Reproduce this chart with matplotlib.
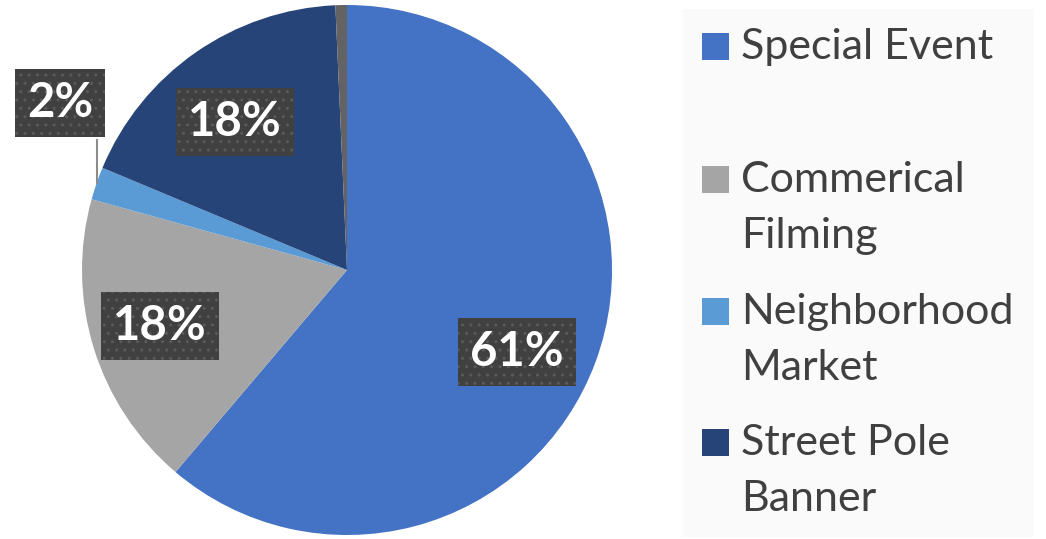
import numpy as np
import matplotlib.pyplot as plt
from matplotlib.patches import Rectangle

plt.rcParams['font.family'] = ['Lato', 'DejaVu Sans']

labels = ["Special Event", "Commerical Filming", "Neighborhood Market", "Street Pole Banner", "Other"]
legend_text = ["Special Event", "Commerical\nFilming", "Neighborhood\nMarket", "Street Pole\nBanner"]
values = [61.2, 18.1, 2.0, 18.0, 0.7]
colors = ["#4472C4", "#A5A5A5", "#5B9BD5", "#264478", "#636363"]

# label box centres (data coords) for the first four slices
label_pos = [(0.642, -0.309), (-0.706, -0.211), (-1.083, 0.630), (-0.423, 0.558)]

W, H = 1046, 539
fig = plt.figure(figsize=(W / 100, H / 100), dpi=100)
cx, cy, r = 347, 270, 265
ax = fig.add_axes([(cx - r) / W, (H - cy - r) / H, 2 * r / W, 2 * r / H])
wedges, _ = ax.pie(values, colors=colors, startangle=90, counterclock=False,
                   radius=1, wedgeprops=dict(linewidth=0))
ax.set_xlim(-1, 1)
ax.set_ylim(-1, 1)
ax.set_aspect('equal')
ax.axis('off')

total = sum(values)
box = dict(boxstyle='square,pad=0.26', facecolor='#404040', edgecolor='#5a5a5a',
           linewidth=0, hatch='..')
for i, w in enumerate(wedges[:4]):
    pct = "%d%%" % round(values[i] / total * 100)
    tx, ty = label_pos[i]
    if values[i] < 5:
        ang = np.deg2rad((w.theta1 + w.theta2) / 2)
        ex, ey = np.cos(ang), np.sin(ang)
        ax.plot([ex, ex], [ey, ty - 0.14], color='#8c8c8c', lw=1.5, clip_on=False)
    ax.text(tx, ty, pct, ha='center', va='center', color='white', fontsize=34,
            fontweight='bold', bbox=box, clip_on=False)

# legend panel
fig.patches.append(Rectangle((683 / W, 2 / H), 351 / W, 528 / H, transform=fig.transFigure,
                             facecolor='#FAFAFA', edgecolor='none', zorder=0))
rows = [47, 208, 340, 471]
for i, t in enumerate(legend_text):
    y = rows[i]
    first = 47 if i == 0 else y - 28
    fig.patches.append(Rectangle((702 / W, 1 - (first + 13) / H), 27 / W, 27 / H,
                                 transform=fig.transFigure, facecolor=colors[i],
                                 edgecolor='none'))
    fig.text(741 / W, 1 - y / H, t, ha='left', va='center', fontsize=31,
             color='#404040', linespacing=1.55)

fig.savefig("out.png", dpi=100)
